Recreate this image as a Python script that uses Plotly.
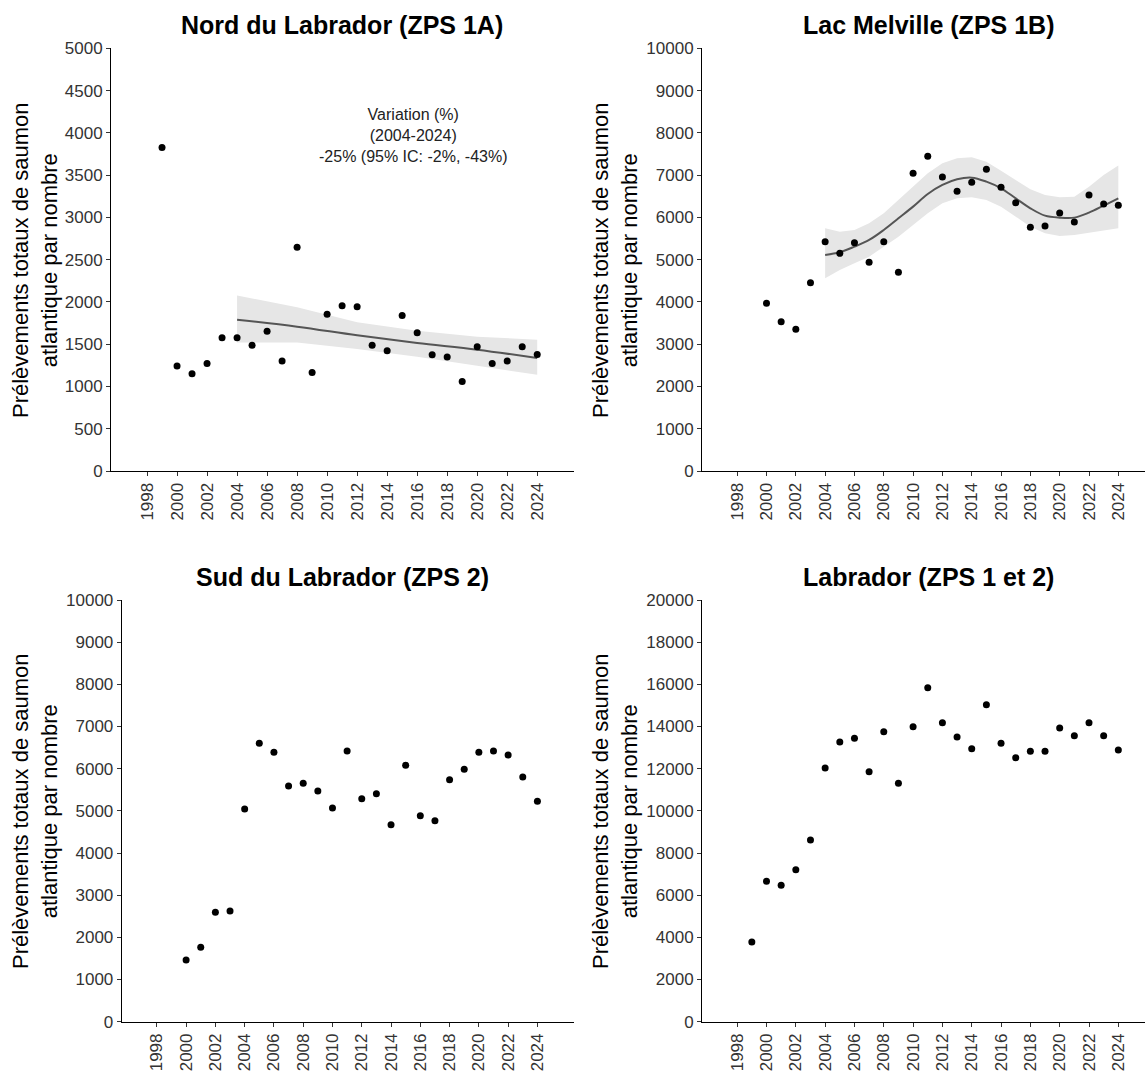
import plotly.graph_objects as go

# ---------------- data ----------------
years_1a = list(range(1999, 2025))
harvest_1a = [3826, 1241, 1150, 1272, 1577, 1577, 1486, 1652, 1300, 2648, 1166, 1853,
              1956, 1944, 1486, 1423, 1838, 1636, 1375, 1348, 1059, 1470, 1272, 1300,
              1470, 1379]
trend_years_1a = [2004, 2008, 2012, 2016, 2020, 2024]
trend_fit_1a = [1790, 1707, 1605, 1515, 1435, 1336]
trend_hi_1a = [2075, 1937, 1759, 1660, 1589, 1553]
trend_lo_1a = [1520, 1521, 1443, 1352, 1245, 1138]

years_1b = list(range(2000, 2025))
harvest_1b = [3967, 3533, 3352, 4456, 5426, 5150, 5402, 4937, 5426, 4700, 7043, 7445,
              6956, 6617, 6830, 7137, 6711, 6349, 5765, 5797, 6104, 5891, 6530, 6317,
              6285]
smooth_years_1b = list(range(2004, 2025))
smooth_fit_1b = [5110, 5174, 5308, 5465, 5702, 5978, 6254, 6553, 6767, 6900, 6940,
                 6845, 6688, 6451, 6215, 6041, 5994, 5994, 6112, 6278, 6451]
smooth_hi_1b = [5741, 5662, 5702, 5860, 6096, 6412, 6727, 7043, 7279, 7397, 7421,
                7319, 7106, 6885, 6664, 6530, 6475, 6490, 6727, 7000, 7230]
smooth_lo_1b = [4558, 4755, 4913, 5071, 5308, 5544, 5820, 6096, 6333, 6451, 6475,
                6412, 6254, 6017, 5781, 5623, 5560, 5584, 5639, 5702, 5741]

years_2 = list(range(2000, 2025))
harvest_2 = [1462, 1763, 2593, 2625, 5043, 6601, 6387, 5589, 5652, 5470, 5067, 6419,
             5289, 5407, 4672, 6079, 4885, 4767, 5739, 5984, 6387, 6419, 6324, 5802,
             5225]

years_all = list(range(1999, 2025))
harvest_all = [3779, 6656, 6466, 7209, 8617, 12032, 13265, 13439, 11858, 13755, 11304,
               13992, 15842, 14182, 13502, 12949, 15036, 13202, 12522, 12822, 12822,
               13929, 13565, 14182, 13565, 12885]

xtick_vals = list(range(1998, 2025, 2))
xtick_text = [str(v) for v in xtick_vals]

titles = ["Nord du Labrador (ZPS 1A)", "Lac Melville (ZPS 1B)",
          "Sud du Labrador (ZPS 2)", "Labrador (ZPS 1 et 2)"]
ytitle = "Prélèvements totaux de saumon<br>atlantique par nombre"
variation_text = "Variation (%)<br>(2004-2024)<br>-25% (95% IC: -2%, -43%)"

# ---------------- figure ----------------
W, H = 1145, 1072
FONT = "Liberation Sans, Arial, sans-serif"
RIB = "#e6e6e6"
LINE = "#555555"

fig = go.Figure()


def ribbon(x, lo, hi, xa, ya):
    fig.add_trace(go.Scatter(x=x, y=lo, mode="lines", line=dict(width=0, color=RIB),
                             xaxis=xa, yaxis=ya, showlegend=False, hoverinfo="skip"))
    fig.add_trace(go.Scatter(x=x, y=hi, mode="lines", line=dict(width=0, color=RIB),
                             fill="tonexty", fillcolor=RIB,
                             xaxis=xa, yaxis=ya, showlegend=False, hoverinfo="skip"))


def fitline(x, y, xa, ya, shape="linear"):
    fig.add_trace(go.Scatter(x=x, y=y, mode="lines",
                             line=dict(color=LINE, width=2, shape=shape),
                             xaxis=xa, yaxis=ya, showlegend=False))


def points(x, y, xa, ya):
    fig.add_trace(go.Scatter(x=x, y=y, mode="markers",
                             marker=dict(color="black", size=7),
                             xaxis=xa, yaxis=ya, showlegend=False))


# Panel 1
ribbon(trend_years_1a, trend_lo_1a, trend_hi_1a, "x", "y")
fitline(trend_years_1a, trend_fit_1a, "x", "y", shape="spline")
points(years_1a, harvest_1a, "x", "y")
# Panel 2
ribbon(smooth_years_1b, smooth_lo_1b, smooth_hi_1b, "x2", "y2")
fitline(smooth_years_1b, smooth_fit_1b, "x2", "y2", shape="spline")
points(years_1b, harvest_1b, "x2", "y2")
# Panel 3
points(years_2, harvest_2, "x3", "y3")
# Panel 4
points(years_all, harvest_all, "x4", "y4")

# Pixel geometry of the panels
px = {
    1: dict(l=111, r=574, t=48.3, b=471, xr=[1995.6, 2026.45], yr=[0, 5000], dy=500),
    2: dict(l=702, r=1145, t=48.3, b=471, xr=[1995.6, 2025.82], yr=[0, 10000], dy=1000),
    3: dict(l=121.7, r=574, t=600, b=1021.7, xr=[1995.6, 2026.5], yr=[0, 10000], dy=1000),
    4: dict(l=702, r=1145, t=600, b=1021.7, xr=[1995.6, 2025.82], yr=[0, 20000], dy=2000),
}

axis_common = dict(showline=True, linecolor="black", linewidth=1, ticks="outside",
                   ticklen=4, tickwidth=1, tickcolor="#333333", showgrid=False,
                   zeroline=False, automargin=False,
                   tickfont=dict(family=FONT, size=17, color="#333333"))

layout = {}
for i, g in px.items():
    sx = "" if i == 1 else str(i)
    layout["xaxis" + sx] = dict(
        axis_common, domain=[g["l"] / W, g["r"] / W], range=g["xr"],
        anchor="y" + sx, tickmode="array", tickvals=xtick_vals, ticktext=xtick_text,
        tickangle=-90)
    layout["yaxis" + sx] = dict(
        axis_common, domain=[1 - g["b"] / H, 1 - g["t"] / H], range=g["yr"],
        anchor="x" + sx, dtick=g["dy"], tick0=0, tickformat="d")

annotations = []
title_pos = [(342, 25), (928, 25), (342, 577), (928, 577)]
for t, (x, y) in zip(titles, title_pos):
    annotations.append(dict(text="<b>" + t + "</b>", x=x / W, y=1 - y / H,
                            xref="paper", yref="paper", showarrow=False,
                            xanchor="center", yanchor="middle",
                            font=dict(family=FONT, size=25, color="black")))
ytitle_pos = [(35, 260), (615, 260), (35, 811), (615, 811)]
for (x, y) in ytitle_pos:
    annotations.append(dict(text=ytitle, x=x / W, y=1 - y / H, xref="paper",
                            yref="paper", showarrow=False, textangle=-90,
                            xanchor="center", yanchor="middle", align="center",
                            font=dict(family=FONT, size=22, color="black")))
annotations.append(dict(text=variation_text, x=413 / W, y=1 - 135 / H, xref="paper",
                        yref="paper", showarrow=False, xanchor="center",
                        yanchor="middle", align="center",
                        font=dict(family=FONT, size=16, color="#222222")))

fig.update_layout(
    width=W, height=H, margin=dict(l=0, r=0, t=0, b=0),
    paper_bgcolor="white", plot_bgcolor="white", showlegend=False,
    annotations=annotations, **layout)

fig.write_html("out.html")
